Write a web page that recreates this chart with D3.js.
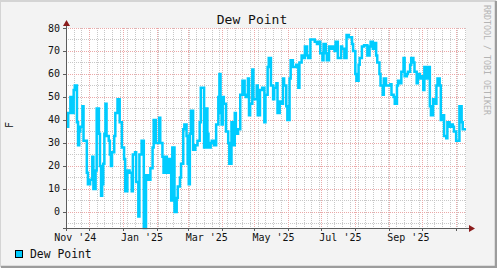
<!DOCTYPE html>
<html>
<head>
<meta charset="utf-8">
<script src="https://cdn.jsdelivr.net/npm/d3@7"></script>
<style>
  body { margin: 0; background: #f3f3f3; }
  svg { display: block; font-family: "DejaVu Sans Mono", monospace; }
</style>
</head>
<body>
<svg id="chart" width="497" height="268"></svg>
<script>
// ==================== DATA ====================
const startDate = "2024-11-10";
const endDate = "2025-11-10";

// days since startDate, and dew point (F) holding from that day on
const dewDays = [
  0, 2, 4, 5, 7, 8, 10, 11, 12, 13, 15, 16, 17, 19, 20, 22, 24, 25, 27, 28,
  30, 31, 32, 33, 34, 35, 36, 37, 39, 40, 41, 42, 44, 45, 47, 49, 51, 53, 54, 56,
  58, 60, 61, 63, 64, 66, 67, 69, 71, 73, 75, 77, 79, 80, 82, 85, 86, 88, 89, 90,
  92, 94, 96, 97, 99, 101, 102, 104, 105, 107, 108, 110, 111, 112, 113, 114, 116, 118, 120, 122,
  123, 126, 128, 129, 130, 132, 133, 135, 137, 139, 140, 141, 142, 143, 144, 146, 148, 149, 151, 152,
  154, 155, 157, 159, 161, 163, 164, 166, 167, 168, 170, 171, 174, 175, 177, 179, 181, 182, 184, 185,
  187, 189, 190, 192, 193, 195, 196, 198, 199, 201, 202, 204, 205, 207, 210, 212, 213, 215, 216, 218,
  220, 221, 223, 225, 227, 229, 230, 232, 234, 235, 237, 238, 240, 241, 243, 245,
  246, 248, 251, 252, 254, 256, 258, 259, 261, 262, 264, 265, 267, 268, 270, 272, 274, 275, 277, 278,
  280, 281, 283, 284, 286, 287, 289, 290, 292, 294, 296, 297, 299, 300, 302, 303, 305, 306, 308, 309,
  311, 312, 314, 315, 317, 318, 320, 321, 323, 324, 326, 327, 329, 330, 332, 333, 335, 336, 338, 339,
  341, 342, 344, 345, 347, 348, 350, 351, 353, 354, 356, 358, 359, 361, 362, 364, 365
];
const dewValues = [
  37, 43, 50, 43, 53, 55, 39, 29, 35, 37, 46, 31, 31, 17, 12, 14, 24, 10, 18, 45,
  34, 20, 7, 12, 21, 34, 47, 33, 31, 25, 20, 26, 33, 43, 49, 39, 28, 23, 9, 18,
  17, 9, 25, 26, 13, -2, 25, 31, -7, 16, 14, 19, 28, 40, 30, 41, 30, 24, 17, 24,
  17, 23, 5, 28, 0, 6, 11, 15, 21, 36, 38, 33, 21, 12, 34, 44, 27, 29, 31, 39,
  54, 28, 45, 34, 28, 30, 31, 29, 38, 50, 60, 43, 38, 50, 47, 35, 30, 21, 39, 29,
  43, 34, 36, 51, 57, 51, 50, 58, 42, 47, 62, 49, 55, 42, 53, 54, 39, 51, 63, 67,
  55, 49, 54, 56, 43, 48, 47, 58, 55, 46, 40, 58, 66, 63, 64, 54, 65, 68, 67, 72,
  68, 67, 75, 75, 74, 73, 74, 69, 66, 73, 69, 66, 72, 71, 72, 70,
  74, 67, 72, 71, 67, 77, 76, 76, 73, 70, 60, 57, 64, 67, 72, 72.5, 72.5, 68, 72, 74,
  71, 73.5, 68, 65, 60, 55, 51, 58, 55, 55, 55.5, 51, 50, 47, 55, 57, 56, 61, 67, 59,
  60, 61, 64, 67, 65, 61, 56, 60, 58, 59, 53, 63, 58, 63, 46, 42, 49, 47, 55, 58,
  55, 40, 42, 33, 32, 39, 37, 38, 37, 35, 31, 31, 46, 39, 36, 36, 36
];

const yTicks = [0, 10, 20, 30, 40, 50, 60, 70, 80];
const xLabelDates = ["2024-11-01", "2025-01-01", "2025-03-01", "2025-05-01", "2025-07-01", "2025-09-01"];
const xLabelText = ["Nov '24", "Jan '25", "Mar '25", "May '25", "Jul '25", "Sep '25"];

// ==================== SETUP ====================
const W = 497, H = 268;
const plot = { left: 66, right: 466, top: 28, bottom: 228 };
const lineColor = "#00ccff";
const parse = d3.utcParse("%Y-%m-%d");

const t0 = parse(startDate);
const t1 = parse(endDate);
const data = dewDays.map((d, i) => ({ date: d3.utcDay.offset(t0, d), value: dewValues[i] }));

const x = d3.scaleUtc().domain([t0, t1]).range([plot.left, plot.right]);
const y = d3.scaleLinear().domain([-7, 80]).range([plot.bottom, plot.top]);

const svg = d3.select("#chart");

// frame
svg.append("rect").attr("width", W).attr("height", H).attr("fill", "#f3f3f3");
svg.append("path").attr("d", `M0,${H - 1}V1H${W - 1}`).attr("fill", "none")
  .attr("stroke", "#d4d4d4").attr("stroke-width", 2);
svg.append("path").attr("d", `M1,${H - 1}H${W - 1}V1`).attr("fill", "none")
  .attr("stroke", "#9c9c9c").attr("stroke-width", 2.5);

// canvas
svg.append("rect")
  .attr("x", plot.left).attr("y", plot.top)
  .attr("width", plot.right - plot.left).attr("height", plot.bottom - plot.top)
  .attr("fill", "#ffffff");

// ==================== GRID ====================
const grid = svg.append("g").attr("shape-rendering", "crispEdges");
const minorColor = "#c8c8c8", majorColor = "#eba9a9";
const months = d3.utcMonth.range(d3.utcMonth.ceil(t0), t1);
const px = (v) => Math.round(v) + 0.5;

grid.selectAll(".vminor")
  .data(d3.utcSunday.range(t0, t1))
  .join("line")
  .attr("x1", (d) => px(x(d))).attr("x2", (d) => px(x(d)))
  .attr("y1", plot.top).attr("y2", plot.bottom)
  .attr("stroke", minorColor).attr("stroke-dasharray", "1,1");

grid.selectAll(".hminor")
  .data(d3.range(-5, 81, 5))
  .join("line")
  .attr("x1", plot.left).attr("x2", plot.right)
  .attr("y1", (d) => px(y(d))).attr("y2", (d) => px(y(d)))
  .attr("stroke", minorColor).attr("stroke-dasharray", "1,1");

grid.selectAll(".vmajor")
  .data(months)
  .join("line")
  .attr("x1", (d) => px(x(d))).attr("x2", (d) => px(x(d)))
  .attr("y1", plot.top).attr("y2", plot.bottom)
  .attr("stroke", "#ffffff");
grid.selectAll(".vmajor2")
  .data(months)
  .join("line")
  .attr("x1", (d) => px(x(d))).attr("x2", (d) => px(x(d)))
  .attr("y1", plot.top).attr("y2", plot.bottom)
  .attr("stroke", majorColor).attr("stroke-dasharray", "1,1");

grid.selectAll(".hmajor")
  .data(yTicks)
  .join("line")
  .attr("x1", plot.left).attr("x2", plot.right)
  .attr("y1", (d) => px(y(d))).attr("y2", (d) => px(y(d)))
  .attr("stroke", majorColor).attr("stroke-dasharray", "1,1");

// ==================== LINE ====================
const line = d3.line()
  .x((d) => x(d.date))
  .y((d) => y(d.value))
  .curve(d3.curveStepAfter);

svg.append("path")
  .datum(data)
  .attr("fill", "none")
  .attr("stroke", lineColor)
  .attr("stroke-width", 2.5)
  .attr("d", line);

// ==================== AXES ====================
const axisColor = "#5c5c5c", arrowColor = "#8b1c1c";
svg.append("line")
  .attr("x1", plot.left + 0.5).attr("x2", plot.left + 0.5)
  .attr("y1", plot.bottom + 3).attr("y2", plot.top - 5)
  .attr("stroke", axisColor).attr("shape-rendering", "crispEdges");
svg.append("line")
  .attr("x1", plot.left - 3).attr("x2", plot.right + 5)
  .attr("y1", plot.bottom + 0.5).attr("y2", plot.bottom + 0.5)
  .attr("stroke", axisColor).attr("shape-rendering", "crispEdges");

// tick marks
svg.selectAll(".ytick")
  .data(yTicks)
  .join("line")
  .attr("x1", plot.left - 3).attr("x2", plot.left)
  .attr("y1", (d) => px(y(d))).attr("y2", (d) => px(y(d)))
  .attr("stroke", axisColor).attr("shape-rendering", "crispEdges");
svg.selectAll(".xtick")
  .data(months)
  .join("line")
  .attr("x1", (d) => px(x(d))).attr("x2", (d) => px(x(d)))
  .attr("y1", plot.bottom).attr("y2", plot.bottom + 3)
  .attr("stroke", axisColor).attr("shape-rendering", "crispEdges");

// arrows
svg.append("path")
  .attr("d", `M${plot.left - 3},${plot.top - 2}L${plot.left + 0.5},${plot.top - 8}L${plot.left + 4},${plot.top - 2}Z`)
  .attr("fill", arrowColor);
svg.append("path")
  .attr("d", `M${plot.right + 3},${plot.bottom - 3}L${plot.right + 9},${plot.bottom + 0.5}L${plot.right + 3},${plot.bottom + 4}Z`)
  .attr("fill", arrowColor);

// labels
svg.selectAll(".ylabel")
  .data(yTicks)
  .join("text")
  .attr("x", plot.left - 6)
  .attr("y", (d) => y(d) + 3.5)
  .attr("text-anchor", "end")
  .attr("font-size", "10px")
  .attr("fill", "#111")
  .text((d) => d);

svg.selectAll(".xlabel")
  .data(xLabelDates)
  .join("text")
  .attr("x", (d) => x(parse(d)) - 2)
  .attr("y", 241)
  .attr("font-size", "10px")
  .attr("fill", "#111")
  .text((d, i) => xLabelText[i]);

svg.append("text")
  .attr("x", 252).attr("y", 24)
  .attr("text-anchor", "middle")
  .attr("font-size", "13px")
  .attr("fill", "#111")
  .text("Dew Point");

svg.append("text")
  .attr("transform", "translate(13,125) rotate(-90)")
  .attr("text-anchor", "middle")
  .attr("font-size", "10px")
  .attr("fill", "#111")
  .text("F");

svg.append("text")
  .attr("transform", "translate(484,5) rotate(90)")
  .attr("font-size", "8.3px")
  .attr("fill", "#b4b4b4")
  .text("RRDTOOL / TOBI OETIKER");

// legend
svg.append("rect")
  .attr("x", 15.5).attr("y", 250.5).attr("width", 7).attr("height", 7)
  .attr("fill", lineColor).attr("stroke", "#000");
svg.append("text")
  .attr("x", 30).attr("y", 258)
  .attr("font-size", "11.4px")
  .attr("fill", "#111")
  .text("Dew Point");
</script>
</body>
</html>
